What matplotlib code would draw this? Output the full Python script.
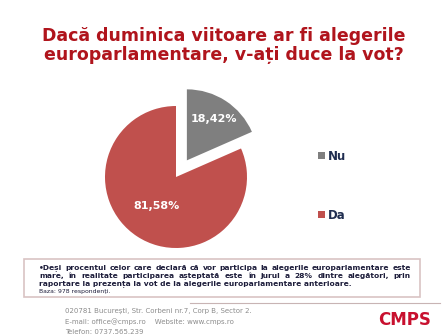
import matplotlib.pyplot as plt
import numpy as np

# Data
labels = ['Nu', 'Da']
values = [18.42, 81.58]
colors = ['#7F7F7F', '#C0504D']
title = 'Dacă duminica viitoare ar fi alegerile\neuroparlamentare, v-ați duce la vot?'
note_lines = [
    '•Deși procentul celor care declară că vor participa la alegerile europarlamentare este',
    'mare, în realitate participarea așteptată este în jurul a 28% dintre alegători, prin',
    'raportare la prezența la vot de la alegerile europarlamentare anterioare.',
]
base_text = 'Baza: 978 respondenți.'
footer_lines = [
    '020781 București, Str. Corbeni nr.7, Corp B, Sector 2.',
    'E-mail: office@cmps.ro    Website: www.cmps.ro',
    'Telefon: 0737.565.239',
]

W, H = 448, 334
fig = plt.figure(figsize=(W / 100, H / 100), dpi=100)
fig.patch.set_facecolor('white')

def px(x, y):
    # pixel position (from top-left) -> figure fraction
    return x / W, 1 - y / H

# Title
fig.text(*px(224, 45.5), title, ha='center', va='center', fontsize=12.5,
         fontweight='bold', color='#B0141C', linespacing=1.05)

# Pie
ax = fig.add_axes([(176 - 100) / W, (H - 177 - 100) / H, 200 / W, 200 / H])
lim = 100 / 71
wedges, _ = ax.pie(values, colors=colors, startangle=90, counterclock=False,
                   explode=[0.28, 0], radius=1,
                   wedgeprops=dict(linewidth=0))
ax.set_xlim(-lim, lim)
ax.set_ylim(-lim, lim)
ax.set_aspect('equal')
ax.axis('off')

label_dist = [0.7, 0.49]
for w, v, d in zip(wedges, values, label_dist):
    ang = np.deg2rad((w.theta1 + w.theta2) / 2)
    cx, cy = w.center
    ax.text(cx + d * np.cos(ang), cy + d * np.sin(ang),
            f'{v:.2f}%'.replace('.', ','), ha='center', va='center',
            color='white', fontsize=8, fontweight='bold')

# Legend
fig.legend(wedges, labels, loc='upper left', bbox_to_anchor=px(307, 139),
           frameon=False, handlelength=0.6, handleheight=0.6,
           handletextpad=0.3, labelspacing=3.9,
           prop=dict(weight='bold', size=8.5), labelcolor='#1F2D50')

# Note box
box = plt.Rectangle(px(24, 297), 396 / W, 38 / H, transform=fig.transFigure,
                    facecolor='white', edgecolor='#D9C3C3', linewidth=1.2)
fig.patches.append(box)

fig.canvas.draw()
renderer = fig.canvas.get_renderer()
x0, x1 = 39, 411
fs = 5.4
note_color = '#1C1C3A'
for i, line in enumerate(note_lines):
    y = 268 + i * 8
    words = line.split(' ')
    if i == len(note_lines) - 1:
        fig.text(*px(x0, y), line, ha='left', va='center', fontsize=fs,
                 fontweight='bold', color=note_color)
        continue
    # justify: spread the words over the full width
    widths = []
    for wd in words:
        t = fig.text(0, 0, wd, fontsize=fs, fontweight='bold')
        widths.append(t.get_window_extent(renderer).width)
        t.remove()
    gap = (x1 - x0 - sum(widths)) / (len(words) - 1)
    xpos = x0
    for wd, wdt in zip(words, widths):
        fig.text(*px(xpos, y), wd, ha='left', va='center', fontsize=fs,
                 fontweight='bold', color=note_color)
        xpos += wdt + gap
fig.text(*px(x0, 292), base_text, ha='left', va='center', fontsize=4.4,
         color=note_color)

# Footer
fig.add_artist(plt.Line2D([190 / W, 440 / W], [1 - 303 / H] * 2,
                          color='#C8B4B4', linewidth=0.8))
for i, line in enumerate(footer_lines):
    fig.text(*px(65, 311 + i * 10.5), line, ha='left', va='center',
             fontsize=5, color='#8C8C8C')
fig.text(*px(405, 320), 'CMPS', ha='center', va='center', fontsize=12,
         fontweight='bold', color='#C8102E')

fig.savefig('out.png', dpi=100, facecolor='white')
